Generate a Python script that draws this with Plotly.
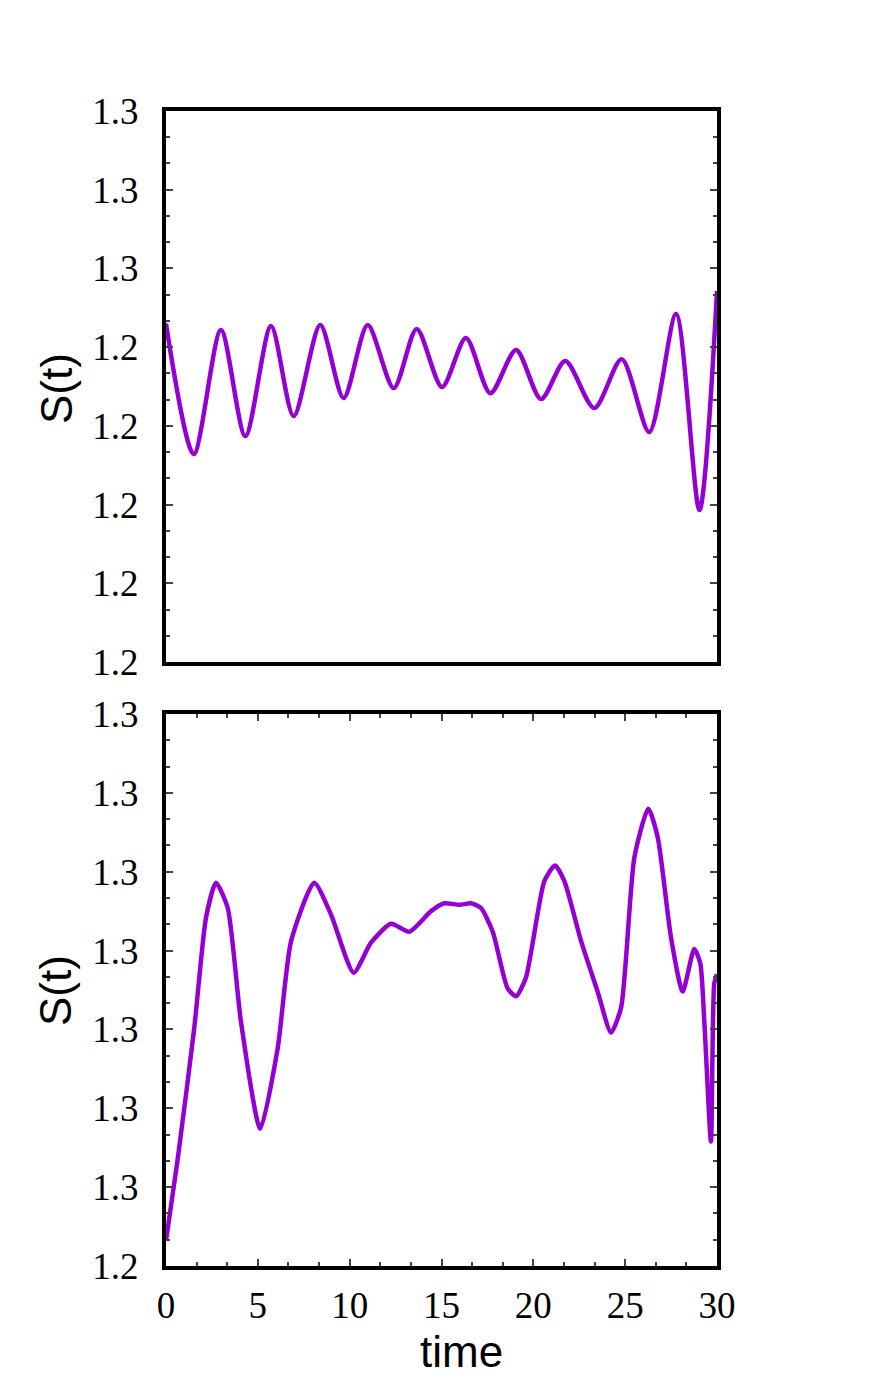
import plotly.graph_objects as go

# top panel S(t)
t_top = [0.0, 1.51, 2.99, 4.32, 5.72, 6.95, 8.40, 9.67, 10.98, 12.40, 13.65,
         15.03, 16.33, 17.66, 19.06, 20.42, 21.74, 23.32, 24.81, 26.31, 27.77,
         29.04, 30.0]
s_top = [1.25150, 1.24321, 1.25109, 1.24435, 1.25134, 1.24562, 1.25140, 1.24677,
         1.25140, 1.24740, 1.25115, 1.24747, 1.25058, 1.24708, 1.24982, 1.24670,
         1.24912, 1.24613, 1.24924, 1.24461, 1.25210, 1.23965, 1.25356]

# bottom panel S(t)
t_bot = [0.0, 0.64, 1.54, 2.18, 2.72, 3.36, 4.08, 5.13, 6.08, 6.81, 8.07, 8.98,
         10.22, 11.16, 12.25, 13.25, 14.43, 15.15, 15.97, 16.61, 17.15, 17.79,
         18.60, 19.06, 19.60, 20.60, 21.18, 21.69, 22.60, 23.50, 24.23, 24.78,
         25.50, 26.26, 26.77, 27.50, 28.13, 28.76, 29.09, 29.31, 29.67, 29.85,
         30.0]
s_bot = [1.24996, 1.25048, 1.25131, 1.25201, 1.25223, 1.25207, 1.25135, 1.25067,
         1.25118, 1.25186, 1.25223, 1.25203, 1.25166, 1.25185, 1.25197, 1.25192,
         1.25205, 1.25210, 1.25209, 1.25210, 1.25207, 1.25192, 1.25156, 1.25151,
         1.25163, 1.25224, 1.25234, 1.25224, 1.25186, 1.25154, 1.25128, 1.25144,
         1.25239, 1.25270, 1.25252, 1.25188, 1.25154, 1.25181, 1.25172, 1.25135,
         1.25059, 1.25159, 1.25165]

top_tickvals = [1.230, 1.235, 1.240, 1.245, 1.250, 1.255, 1.260, 1.265]
top_ticktext = ["1.2", "1.2", "1.2", "1.2", "1.2", "1.3", "1.3", "1.3"]
bot_tickvals = [1.2498, 1.2503, 1.2508, 1.2513, 1.2518, 1.2523, 1.2528, 1.2533]
bot_ticktext = ["1.2", "1.3", "1.3", "1.3", "1.3", "1.3", "1.3", "1.3"]
x_tickvals = [0, 5, 10, 15, 20, 25, 30]

PURPLE = "#9400d3"
tickfont = dict(family="Liberation Serif", size=37, color="black")
labfont = dict(family="Liberation Sans", size=44, color="black")

fig = go.Figure()
fig.add_trace(go.Scatter(x=t_top, y=s_top, mode="lines", xaxis="x", yaxis="y",
                         line=dict(color=PURPLE, width=4.5, shape="spline", smoothing=0.8)))
fig.add_trace(go.Scatter(x=t_bot, y=s_bot, mode="lines", xaxis="x2", yaxis="y2",
                         line=dict(color=PURPLE, width=4.5, shape="spline", smoothing=0.6)))

axline = dict(showline=True, linecolor="black", linewidth=4,
              showgrid=False, zeroline=False)
tickstyle = dict(ticks="inside", ticklen=7, tickwidth=2, tickfont=tickfont,
                 mirror="allticks")

fig.update_layout(
    width=873, height=1387,
    plot_bgcolor="white", paper_bgcolor="white",
    showlegend=False,
    margin=dict(l=158, r=164, t=103, b=129),
    xaxis=dict(domain=[0, 1], range=[0, 30], anchor="y", showticklabels=False,
               ticks="", mirror=True, **axline),
    yaxis=dict(domain=[0.5229, 1], range=[1.230, 1.265], anchor="x",
               tickvals=top_tickvals, ticktext=top_ticktext, ticklabelstandoff=16,
               minor=dict(dtick=0.005 / 3, tick0=1.230, ticks="inside",
                          ticklen=4, tickwidth=2),
               **axline, **tickstyle),
    xaxis2=dict(domain=[0, 1], range=[0, 30], anchor="y2",
                tickvals=x_tickvals, ticklabelstandoff=4,
                minor=dict(dtick=5 / 3, tick0=0, ticks="inside",
                           ticklen=4, tickwidth=2),
                **axline, **tickstyle),
    yaxis2=dict(domain=[0, 0.4779], range=[1.2498, 1.2533], anchor="x2",
                tickvals=bot_tickvals, ticktext=bot_ticktext, ticklabelstandoff=16,
                minor=dict(dtick=0.0005 / 3, tick0=1.2498, ticks="inside",
                           ticklen=4, tickwidth=2),
                **axline, **tickstyle),
    annotations=[
        dict(text="S(t)", x=-0.1996, y=0.7593, xref="paper", yref="paper",
             textangle=-90, showarrow=False, font=labfont,
             xanchor="center", yanchor="middle"),
        dict(text="S(t)", x=-0.1996, y=0.2381, xref="paper", yref="paper",
             textangle=-90, showarrow=False, font=labfont,
             xanchor="center", yanchor="middle"),
        dict(text="time", x=0.5372, y=-0.0736, xref="paper", yref="paper",
             showarrow=False, font=labfont, xanchor="center", yanchor="middle"),
    ],
)

fig.write_html("out.html")
